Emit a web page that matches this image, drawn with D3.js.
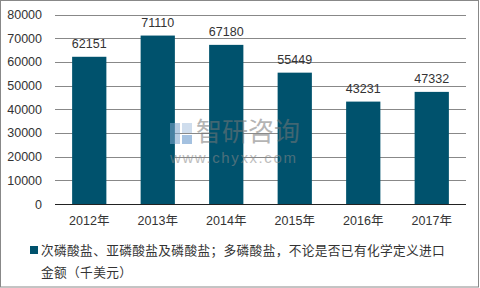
<!DOCTYPE html>
<html>
<head>
<meta charset="utf-8">
<script src="https://cdn.jsdelivr.net/npm/d3@7"></script>
<style>
	body { margin: 0; background: #fff; }
	svg text { font-family: "Liberation Sans", Arial, "Noto Sans CJK SC", sans-serif; }
</style>
</head>
<body>
<div id="chart"></div>
<script>

///////////////////////////////////////////////////////////////////////////
//////////////////////////////// Data /////////////////////////////////////
///////////////////////////////////////////////////////////////////////////

var years = ["2012年", "2013年", "2014年", "2015年", "2016年", "2017年"];
var values = [62151, 71110, 67180, 55449, 43231, 47332];
var yTicks = [0, 10000, 20000, 30000, 40000, 50000, 60000, 70000, 80000];
var legendLines = ["次磷酸盐、亚磷酸盐及磷酸盐；多磷酸盐，不论是否已有化学定义进口", "金额（千美元）"];

var color = "#00526D",
	textColor = "#333";

///////////////////////////////////////////////////////////////////////////
//////////////////////////////// SVG //////////////////////////////////////
///////////////////////////////////////////////////////////////////////////

var width = 480, height = 288;

var svg = d3.select("#chart").append("svg")
	.attr("width", width)
	.attr("height", height);

//Outer frame
svg.append("rect")
	.attr("x", 0.5).attr("y", 0.5)
	.attr("width", 478).attr("height", 286.5)
	.style("fill", "#fff")
	.style("stroke", "#888")
	.style("stroke-width", 1);

var x = d3.scaleBand()
	.domain(years)
	.range([55, 466])
	.paddingInner(0.5)
	.paddingOuter(0.25);

var y = d3.scaleLinear()
	.domain([0, 80000])
	.range([204, 14.5]);

//Gridlines
svg.append("g").selectAll("line")
	.data(yTicks.slice(1))
	.enter().append("line")
	.attr("x1", 55).attr("x2", 466)
	.attr("y1", function(d) { return Math.round(y(d)) + 0.5; })
	.attr("y2", function(d) { return Math.round(y(d)) + 0.5; })
	.style("stroke", "#888")
	.style("stroke-width", 1);

//Y axis labels
var yAxis = svg.append("g")
	.attr("transform", "translate(55,0)")
	.call(d3.axisLeft(y).tickValues(yTicks).tickSize(0).tickPadding(13).tickFormat(d3.format("d")));
yAxis.select(".domain").remove();
yAxis.selectAll("text")
	.style("font-size", "12.5px")
	.style("fill", textColor);

//Bars
svg.append("g").selectAll("rect")
	.data(values)
	.enter().append("rect")
	.attr("x", function(d, i) { return x(years[i]); })
	.attr("y", function(d) { return y(d); })
	.attr("width", x.bandwidth())
	.attr("height", function(d) { return y(0) - y(d); })
	.style("fill", color);

//Value labels
svg.append("g").selectAll("text")
	.data(values)
	.enter().append("text")
	.attr("x", function(d, i) { return x(years[i]) + x.bandwidth() / 2; })
	.attr("y", function(d) { return y(d) - 8.5; })
	.style("text-anchor", "middle")
	.style("font-size", "12.5px")
	.style("fill", textColor)
	.text(function(d) { return d; });

//Watermark
var wm = svg.append("g").style("opacity", 0.55);
wm.append("rect").attr("x", 170).attr("y", 123).attr("width", 10).attr("height", 21).style("fill", "#7fa6cf");
wm.append("rect").attr("x", 182).attr("y", 123).attr("width", 10).attr("height", 10).style("fill", "#a9c3e0");
wm.append("rect").attr("x", 182).attr("y", 135).attr("width", 10).attr("height", 9).style("fill", "#5b8fc7");
wm.append("text")
	.attr("x", 196).attr("y", 141)
	.style("font-size", "26px")
	.style("font-family", "'Noto Sans CJK SC'")
	.style("fill", "#777")
	.text("智研咨询");
wm.append("text")
	.attr("x", 170).attr("y", 163)
	.style("font-size", "15px")
	.style("fill", "#888")
	.style("letter-spacing", "1.6px")
	.text("www.chyxx.com");

//Baseline
svg.append("line")
	.attr("x1", 55).attr("x2", 466)
	.attr("y1", 204.5).attr("y2", 204.5)
	.style("stroke", "#222")
	.style("stroke-width", 1);

//X axis labels
svg.append("g").selectAll("text")
	.data(years)
	.enter().append("text")
	.attr("x", function(d) { return x(d) + x.bandwidth() / 2; })
	.attr("y", 225)
	.style("text-anchor", "middle")
	.style("font-size", "12.5px")
	.style("fill", textColor)
	.text(function(d) { return d; });

//Legend
svg.append("rect")
	.attr("x", 30).attr("y", 246)
	.attr("width", 8).attr("height", 8)
	.style("fill", color);

svg.append("g").selectAll("text")
	.data(legendLines)
	.enter().append("text")
	.attr("x", 41)
	.attr("y", function(d, i) { return 255 + i * 22; })
	.style("font-size", "12.7px")
	.style("letter-spacing", "0.35px")
	.style("font-family", "'Noto Sans CJK SC'")
	.style("fill", textColor)
	.text(function(d) { return d; });

</script>
</body>
</html>
